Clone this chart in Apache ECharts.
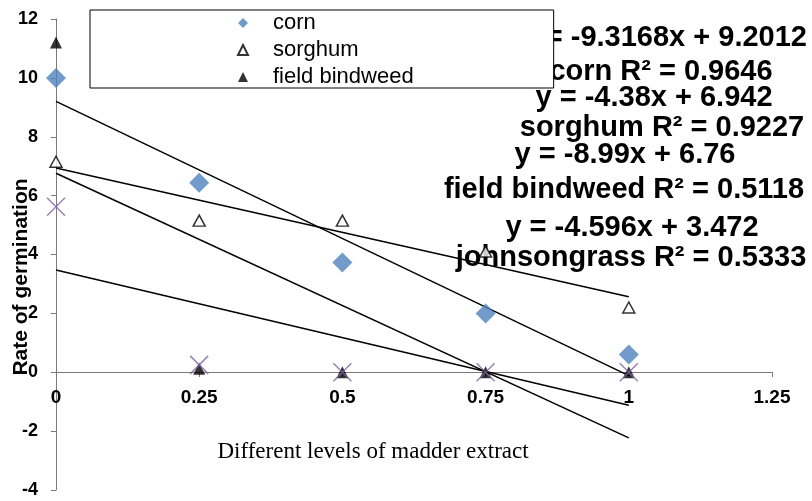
<!DOCTYPE html>
<html>
<head>
<meta charset="utf-8">
<script src="https://cdn.jsdelivr.net/npm/echarts@6/dist/echarts.min.js"></script>
<style>
  html, body { margin: 0; padding: 0; background: #fff; }
  #chart { width: 812px; height: 501px; }
</style>
</head>
<body>
<div id="chart"></div>
<script>
// madder extract levels
const xLevels = [0, 0.25, 0.5, 0.75, 1];
// rate of germination per plant
const corn = [10, 6.44, 3.73, 2.0, 0.6];
const sorghum = [7.15, 5.15, 5.15, 4.1, 2.2];
const fieldBindweed = [11.2, 0.12, 0, 0, 0];
const johnsongrass = [5.62, 0.25, 0, 0, 0];
// linear trendlines (as printed on the chart)
const trendNames = ['corn', 'sorghum', 'field bindweed', 'johnsongrass'];
const trendSlopes = [-9.3168, -4.38, -8.99, -4.596];
const trendIntercepts = [9.2012, 6.942, 6.76, 3.472];
const trendR2 = [0.9646, 0.9227, 0.5118, 0.5333];
const legendNames = ['corn', 'sorghum', 'field bindweed'];
const xTickLabels = ['0', '0.25', '0.5', '0.75', '1', '1.25'];
const yTickLabels = ['-4', '-2', '0', '2', '4', '6', '8', '10', '12'];

const FONT = "'Liberation Sans', Arial, sans-serif";

function pairs(ys) {
  return xLevels.map(function (x, i) { return [x, ys[i]] })
}

const trendSeries = trendNames.map(function (name, i) {
  return {
    name: name + ' trend',
    type: 'line',
    silent: true,
    symbol: 'none',
    z: 2,
    lineStyle: { color: '#000', width: 1.5 },
    data: [[xLevels[0], trendIntercepts[i]], [xLevels[4], trendIntercepts[i] + trendSlopes[i] * xLevels[4]]]
  }
})

function eqText(i) {
  return 'y = ' + trendSlopes[i] + 'x + ' + trendIntercepts[i]
}
function r2Text(i) {
  return trendNames[i] + ' R\u00b2 = ' + trendR2[i]
}
function label(text, x, y, align) {
  return {
    type: 'text',
    x: x,
    y: y,
    z: 1,
    style: {
      text: text,
      font: 'bold 29px ' + FONT,
      fill: '#000',
      textAlign: align || 'center',
      textVerticalAlign: 'middle'
    }
  }
}

const dom = echarts.init(document.getElementById('chart'))
const option = {
  animation: false,
  backgroundColor: '#fff',
  grid: { left: 56, right: 40, top: 19, bottom: 11, outerBoundsMode: 'none', containLabel: false },
  legend: {
    data: legendNames,
    orient: 'vertical',
    left: 90,
    top: 10,
    padding: [2, 140, 0, 147],
    itemGap: 5,
    itemWidth: 10,
    itemHeight: 10,
    backgroundColor: '#fff',
    borderColor: '#000',
    borderWidth: 1,
    borderRadius: 0,
    z: 10,
    textStyle: { fontFamily: FONT, fontSize: 22, color: '#000', lineHeight: 20, padding: [0, 0, 0, 20] }
  },
  xAxis: {
    type: 'value',
    min: 0,
    max: 1.25,
    interval: 0.25,
    offset: -118,
    axisLine: { onZero: false, lineStyle: { color: '#7a7a7a', width: 1 } },
    axisTick: { show: true, inside: false, length: 5, lineStyle: { color: '#7a7a7a' } },
    splitLine: { show: false },
    axisLabel: {
      margin: 16,
      fontFamily: FONT,
      fontSize: 19,
      fontWeight: 'bold',
      color: '#000',
      formatter: function (v) { return xTickLabels[Math.round(v / 0.25)] }
    }
  },
  yAxis: {
    type: 'value',
    min: -4,
    max: 12,
    interval: 2,
    axisLine: { show: true, onZero: false, lineStyle: { color: '#7a7a7a', width: 1 } },
    axisTick: { show: true, length: 5, lineStyle: { color: '#7a7a7a' } },
    splitLine: { show: false },
    axisLabel: {
      margin: 18,
      fontFamily: FONT,
      fontSize: 18,
      fontWeight: 'bold',
      color: '#000',
      formatter: function (v) { return yTickLabels[Math.round((v + 4) / 2)] }
    }
  },
  graphic: [
    label(eqText(0), 807, 38, 'right'),
    label(r2Text(0), 661, 72),
    label(eqText(1), 654, 98),
    label(r2Text(1), 662, 128),
    label(eqText(2), 625, 155),
    label(r2Text(2), 624, 190),
    label(eqText(3), 632, 228),
    label(r2Text(3), 631, 258),
    {
      type: 'text',
      x: 21,
      y: 277,
      rotation: Math.PI / 2,
      style: {
        text: 'Rate of germination',
        font: 'bold 21px ' + FONT,
        fill: '#000',
        textAlign: 'center',
        textVerticalAlign: 'middle'
      }
    },
    {
      type: 'text',
      x: 373,
      y: 452,
      style: {
        text: 'Different levels of madder extract',
        font: "23px 'Liberation Serif', 'Times New Roman', serif",
        fill: '#000',
        textAlign: 'center',
        textVerticalAlign: 'middle'
      }
    }
  ],
  series: trendSeries.concat([
    {
      name: 'sorghum',
      type: 'scatter',
      symbol: 'triangle',
      symbolSize: [12, 11],
      z: 3,
      itemStyle: { color: '#fff', borderColor: '#000', borderWidth: 1.5 },
      data: pairs(sorghum)
    },
    {
      name: 'field bindweed',
      type: 'scatter',
      symbol: 'triangle',
      symbolSize: [12, 12],
      z: 3,
      itemStyle: { color: '#000' },
      data: pairs(fieldBindweed)
    },
    {
      name: 'corn',
      type: 'scatter',
      symbol: 'diamond',
      symbolSize: [20, 20],
      z: 4,
      itemStyle: { color: '#4F81BD' },
      data: pairs(corn)
    },
    {
      name: 'johnsongrass',
      type: 'scatter',
      symbol: 'path://M0,0L10,10M10,0L0,10',
      symbolSize: [18, 18],
      z: 5,
      itemStyle: { color: 'none', borderColor: '#8064A2', borderWidth: 1.5 },
      data: pairs(johnsongrass)
    }
  ])
}
dom.setOption(option)
</script>
</body>
</html>
